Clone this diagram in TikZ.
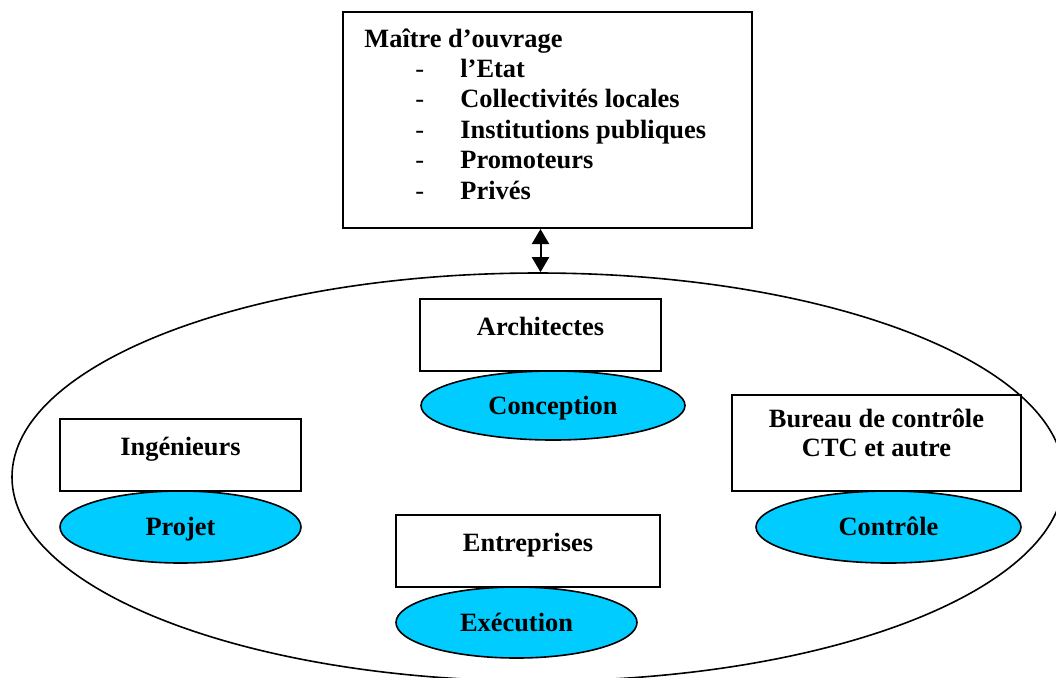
\documentclass[tikz,border=0pt]{standalone}
\usepackage{fontspec}
\setmainfont{Liberation Serif}
\usetikzlibrary{shapes.geometric,arrows.meta}
\definecolor{bleuciel}{HTML}{00CCFF}
\tikzset{
	cadre/.style={draw, line width=1pt, inner sep=0pt, text height=18pt, text depth=18pt,
		font=\fontsize{13.2}{14.5}\selectfont\bfseries},
	phase/.style={draw, ellipse, fill=bleuciel, line width=0.8pt, inner sep=0pt,
		text height=8.8pt, text depth=0pt, font=\fontsize{13.2}{14.5}\selectfont\bfseries},
	liste/.style={anchor=base west, inner sep=0pt, font=\fontsize{13.2}{14.5}\selectfont\bfseries}
}
\begin{document}
\begin{tikzpicture}[x=0.5pt, y=-0.5pt]
			\useasboundingbox (0,0) rectangle (1056,677);
			\clip (0,0) rectangle (1056,677);
			% ensemble des intervenants
			\node[draw, ellipse, line width=0.8pt, inner sep=0pt, minimum width=526pt, minimum height=204pt] (equipe) at (538,477) {};
			% maitre d'ouvrage
			\node[draw, line width=1pt, inner sep=0pt, minimum width=204.5pt, minimum height=108pt] (moa) at (547.5,120) {};
			\node[liste] (titre) at (364,47) {Maître d’ouvrage};
			\foreach \nom [count=\i] in {l’Etat, Collectivités locales, Institutions publiques, Promoteurs, Privés} {
				\node[liste, font=\fontsize{13.2}{14.5}\selectfont\mdseries] (tiret\i) at (415,47+30.4*\i) {-};
				\node[liste] (item\i) at (460,47+30.4*\i) {\nom};
			}
			% intervenants
			\node[cadre, minimum width=120.5pt, minimum height=36pt] (archi) at (540.5,335) {Architectes};
			\node[phase, minimum width=132pt, minimum height=34.5pt] (conc) at (553,405.5) {Conception};
			\node[cadre, minimum width=120.5pt, minimum height=36pt] (inge) at (180.5,455) {Ingénieurs};
			\node[phase, minimum width=120.5pt, minimum height=36pt] (projet) at (180.5,527) {Projet};
			\node[cadre, align=center, text height=30.5pt, text depth=17.5pt, minimum width=144.5pt, minimum height=48pt] (bureau) at (876.5,443) {Bureau de contrôle\\CTC et autre};
			\node[phase, minimum width=132.5pt, minimum height=36pt] (ctrl) at (888.5,527) {Contrôle};
			\node[cadre, minimum width=132pt, minimum height=36pt] (entr) at (528,551) {Entreprises};
			\node[phase, minimum width=120.5pt, minimum height=35.5pt] (exec) at (516.5,622.5) {Exécution};
			\draw[{Triangle[width=8.5pt,length=7.5pt]}-{Triangle[width=8.5pt,length=7.5pt]}, line width=1pt] (moa.south -| archi.north) -- (archi.north |- equipe.north);
		\end{tikzpicture}
\end{document}
